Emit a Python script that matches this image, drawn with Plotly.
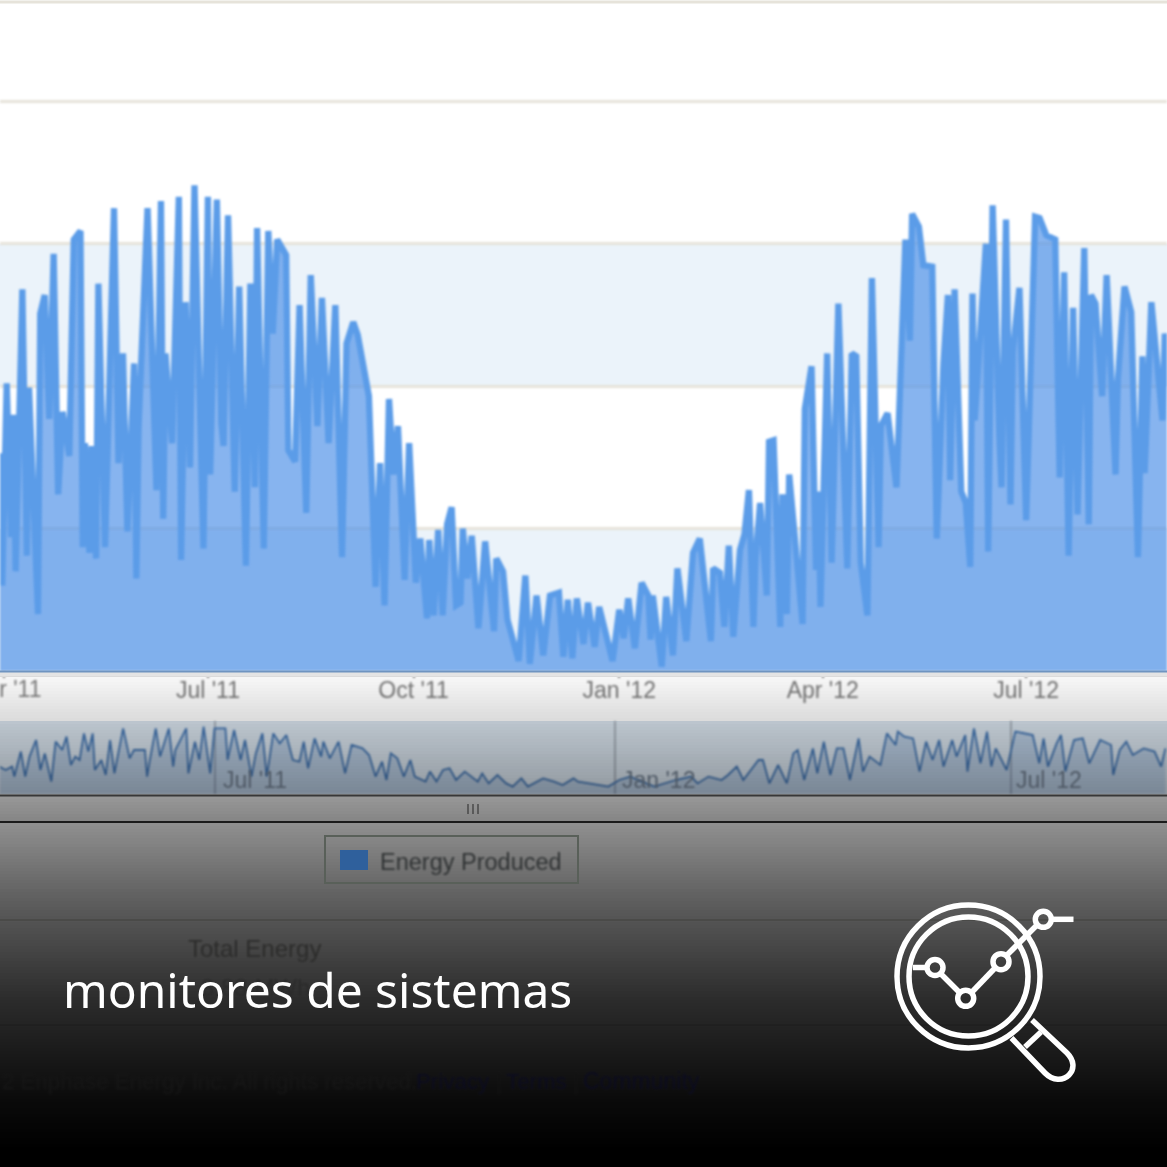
import numpy as np
import pandas as pd
import plotly.graph_objects as go

BASE = pd.Timestamp("2011-03-30")

main_day = [0,1,3,5,6,7,10,12,13,17,18,20,22,24,26,28,31,33,36,37,38,40,41,43,44,47,51,53,55,57,60,61,62,66,70,72,73,74,77,80,81,83,85,87,91,93,94,97,99,100,102,105,107,110,112,114,115,118,120,122,124,128,129,132,134,137,139,142,144,147,150,153,155,158,160,163,165,168,170,172,174,176,178,181,183,186,188,191,192,194,196,198,200,202,204,206,207,209,211,214,217,221,222,225,227,232,235,237,240,243,246,250,252,254,256,258,261,263,266,268,270,274,277,279,281,284,287,290,291,292,296,298,301,303,307,310,313,316,318,319,322,324,326,328,331,333,335,337,338,340,343,344,346,349,350,352,353,359,360,363,365,366,367,370,372,375,379,381,383,385,388,390,393,394,397,401,405,407,408,411,413,417,419,422,424,425,427,430,432,434,435,436,441,442,444,447,448,450,452,453,456,459,463,465,468,472,474,476,478,480,482,485,487,488,490,493,495,499,500,503,506,509,511,512,515,520,521,523]
main_kwh = [15.3,6.0,20.2,9.4,18.0,7.0,26.8,8.1,19.9,4.0,25.1,26.4,17.7,29.3,12.4,18.2,15.1,30.3,30.9,8.7,16.0,8.3,15.8,7.9,27.2,8.7,32.5,14.6,22.3,9.8,21.6,6.5,17.2,32.5,12.7,33.0,10.7,22.3,16.0,33.3,7.8,25.9,14.3,34.1,8.6,33.3,13.8,33.1,17.4,15.8,32.0,12.6,27.0,7.4,27.2,12.9,31.1,8.6,30.9,23.7,30.3,29.2,15.5,14.7,25.7,11.1,27.8,17.2,26.2,16.0,25.7,8.0,23.0,24.5,23.6,20.7,19.3,5.9,14.6,4.6,19.1,13.8,17.2,6.4,16.0,6.2,9.3,3.7,9.2,3.9,9.9,3.9,10.3,11.5,4.6,4.8,10.0,6.5,9.5,3.0,9.1,2.8,7.9,7.0,3.6,0.7,6.7,0.5,5.3,1.1,5.3,5.5,1.0,5.0,0.9,5.1,1.9,4.8,1.7,4.5,3.1,0.7,4.3,2.3,5.1,1.6,6.2,5.3,2.2,5.3,0.3,5.2,1.1,7.2,2.1,8.3,9.3,5.2,2.1,7.2,6.9,3.1,8.8,2.4,8.5,9.6,12.7,3.1,8.0,11.8,5.3,16.1,16.2,3.1,12.4,4.0,13.8,3.3,18.4,21.4,7.1,12.6,4.5,22.3,7.6,25.8,7.2,22.3,22.1,7.6,3.9,27.6,8.7,17.2,18.1,12.9,30.3,23.2,32.1,31.2,28.5,28.4,9.3,21.5,26.4,13.4,26.8,12.6,11.8,7.3,26.5,17.6,30.0,8.4,32.7,16.5,12.9,31.7,11.7,22.4,26.9,10.6,31.9,31.8,30.6,30.3,13.6,28.0,8.1,25.5,11.0,29.7,10.3,26.4,25.8,19.3,27.8,13.8,20.4,27.0,25.2,8.0,22.1,13.9,25.9,17.6,23.7,20.0]

nav_day = [-6,-3,0,1,4,6,8,11,13,15,18,20,23,25,27,29,31,33,35,37,38,41,43,45,47,49,51,54,56,61,62,63,66,68,72,74,75,80,81,84,86,88,91,93,98,99,102,105,107,110,112,115,117,120,123,126,129,132,134,136,139,142,143,146,150,153,156,161,164,167,170,172,174,177,180,183,185,190,192,195,198,201,204,208,214,216,219,223,227,230,234,237,241,244,249,253,258,260,265,274,279,284,295,300,305,312,315,320,326,329,333,336,340,343,345,348,352,356,359,361,364,368,370,373,376,379,382,385,389,391,394,399,402,406,407,410,414,417,420,423,426,428,432,434,438,439,442,445,448,450,452,457,461,465,469,472,474,476,480,482,484,488,492,495,500,505,506,509,512,515,520,525,528,530]
nav_kwh = [13.7,12,13.7,8.7,21.2,8.7,18.7,27,12,20.3,6.2,26.2,22,28.7,14.5,18.7,17,30.3,21.2,30.3,12,17,9.5,27,10.3,22,32.8,17.8,22,22,8.7,15.3,32.8,18.7,32.8,13.7,22,32.8,10.3,26.2,17,33.7,10.3,32.8,32.8,17,32,17,27,8.7,20.3,30.3,8.7,30.3,25.3,29.5,17,16.2,26.2,12.8,27.8,18.7,26.2,17.8,26.2,10.3,24.5,22.8,19.5,8.7,16.2,7,20.3,17.8,8.7,17,8.7,6.2,11.2,6.2,12,12.8,7,11.2,6.2,10.3,5.3,9.5,5.3,3.7,7.8,3.7,6.2,7.8,6.2,4.5,7.8,6.2,5.3,3.7,7,8.7,3.7,5.3,7,8.7,5.3,8.7,7,9.5,13.7,7,12.8,17,17,5.3,14.5,5.3,20.3,22,7,22.8,10.3,26.2,9.5,22.8,22.8,7,27.8,11.2,18.7,14.5,30.3,24.5,31.2,28.7,27.8,11.2,26.2,17,27,13.7,27,18.7,29.5,11.2,32.8,15.3,31.2,13.7,22.8,12,31.2,30.3,29.5,15.3,27.8,13.7,25.3,29.5,11.2,27,27.8,15.3,27,24.5,9.5,22,26.2,19.5,22.8,21.2,13.7,22.8]

month_ticks = ["2011-04-01", "2011-07-01", "2011-10-01", "2012-01-01", "2012-04-01", "2012-07-01"]
month_labels = ["Apr '11", "Jul '11", "Oct '11", "Jan '12", "Apr '12", "Jul '12"]
nav_ticks = ["2011-07-01", "2012-01-01", "2012-07-01"]
nav_labels = ["Jul '11", "Jan '12", "Jul '12"]
y_ticks = [10, 20, 30, 40]
legend_label = "Energy Produced"
headline = "monitores de sistemas"


def dates(days):
    return BASE + pd.to_timedelta(days, unit="D")


def px(x):
    return x / 1167


def py(y):
    return 1 - y / 1167


def rect(x0, y0, x1, y1, fill, line=None, width=0):
    return dict(type="rect", xref="paper", yref="paper", layer="above",
                x0=px(x0), x1=px(x1), y0=py(y0), y1=py(y1),
                fillcolor=fill, line=dict(color=line or "rgba(0,0,0,0)", width=width))


def hline(y, x0=0, x1=1167, color="#333", width=1):
    return dict(type="line", xref="paper", yref="paper", layer="above",
                x0=px(x0), x1=px(x1), y0=py(y), y1=py(y), line=dict(color=color, width=width))


fig = go.Figure()
fig.add_trace(go.Scatter(x=dates(main_day), y=main_kwh, mode="lines", fill="tozeroy",
                         fillcolor="rgba(70,140,230,0.65)",
                         line=dict(color="#5b9ce8", width=6.3, shape="linear"),
                         hoverinfo="skip", showlegend=False, xaxis="x", yaxis="y"))
fig.add_trace(go.Scatter(x=dates(nav_day), y=nav_kwh, mode="lines", fill="tozeroy",
                         fillcolor="rgba(70,120,180,0.22)",
                         line=dict(color="#3f74b4", width=1.8),
                         hoverinfo="skip", showlegend=False, xaxis="x2", yaxis="y2"))

shapes = []
# plot bands
for lo, hi in [(0, 10), (20, 30)]:
    shapes.append(dict(type="rect", xref="paper", yref="y", layer="below", x0=0, x1=1,
                       y0=lo, y1=hi, fillcolor="#ebf3fa", line=dict(width=0)))
shapes.append(dict(type="rect", xref="paper", yref="paper", layer="below", x0=0, x1=1,
                   y0=py(794), y1=py(721), fillcolor="#dce7f1", line=dict(width=0)))
# strips below the plot
shapes.append(rect(0, 672, 1167, 677, "#e4e4e4"))
shapes.append(hline(2, color="#e6e3da", width=3))
shapes.append(hline(671.5, color="#6f94c0", width=2))
# scrollbar
shapes.append(rect(0, 796, 1167, 822, "#e9e9e9"))
shapes.append(hline(795.5, color="#555555", width=2))
shapes.append(hline(822, color="#303030", width=2))
for gx in [468, 473, 478]:
    shapes.append(dict(type="line", xref="paper", yref="paper", layer="above",
                       x0=px(gx), x1=px(gx), y0=py(804), y1=py(814),
                       line=dict(color="#777777", width=1.5)))
shapes.append(hline(920, color="#d8d8d0", width=1.5))
shapes.append(hline(1025, color="#cccccc", width=1))

# darkening veil down the lower part of the image
veil_y = [676, 720, 800, 825, 900, 1000, 1100, 1150, 1168]
veil_a = [0.03, 0.14, 0.36, 0.44, 0.63, 0.83, 0.96, 1.0, 1.0]
for y0 in range(676, 1168, 3):
    a = float(np.interp(y0 + 1.5, veil_y, veil_a))
    shapes.append(rect(0, y0, 1167, y0 + 3, f"rgba(0,0,0,{a:.3f})"))

# legend
shapes.append(dict(type="rect", xref="paper", yref="paper", layer="above",
                   x0=px(325), x1=px(578), y0=py(836), y1=py(883),
                   fillcolor="rgba(0,0,0,0)", line=dict(color="#596059", width=2)))
shapes.append(rect(340, 850, 368, 870, "#2f609c"))

# magnifier icon
WHITE = dict(color="#ffffff", width=5.5)


def circle(cx, cy, r, width=5.5):
    return dict(type="circle", xref="paper", yref="paper", layer="above",
                x0=px(cx - r), x1=px(cx + r), y0=py(cy + r), y1=py(cy - r),
                fillcolor="rgba(0,0,0,0)", line=dict(color="#ffffff", width=width))


def seg(x0, y0, x1, y1):
    return dict(type="line", xref="paper", yref="paper", layer="above",
                x0=px(x0), x1=px(x1), y0=py(y0), y1=py(y1), line=WHITE)


shapes += [circle(968.5, 976.5, 71.5), circle(968.5, 976.5, 59.5)]
shapes += [circle(935, 967.5, 8), circle(965.7, 998.3, 8), circle(1001, 961.7, 8), circle(1043.3, 919.3, 8)]
shapes += [seg(913, 967.5, 926, 967.5), seg(941, 974, 959, 992), seg(972, 992, 995, 968),
           seg(1007, 955, 1036, 926), seg(1052, 919.3, 1073.5, 919.3),
           seg(1025, 1047, 1041, 1032)]


def P(x, y):
    return f"{px(x)} {py(y)}"


handle = (f"M {P(1011.5, 1038)} L {P(1045, 1073)} "
          f"C {P(1053, 1081)} {P(1063, 1081)} {P(1069, 1075)} "
          f"C {P(1075, 1069)} {P(1074, 1060)} {P(1067, 1053)} "
          f"L {P(1032, 1020)}")
shapes.append(dict(type="path", xref="paper", yref="paper", layer="above", path=handle,
                   fillcolor="rgba(0,0,0,0)", line=WHITE))

annotations = []


def note(text, x, y, size, color, anchor="left", family="Liberation Sans"):
    annotations.append(dict(text=text, xref="paper", yref="paper", x=px(x), y=py(y),
                            xanchor=anchor, yanchor="middle", showarrow=False,
                            font=dict(family=family, size=size, color=color)))


note(month_labels[0], 6, 689, 23, "#777777", anchor="center")
for label, tx in zip(nav_labels, [221, 620, 1014]):
    note(label, tx, 780, 23, "#4d5763")
note(legend_label, 378, 862, 23.5, "#2f3233")
note("Total Energy", 254, 948, 24, "#2b2b2a", anchor="center")
note("8.88 MWh", 255, 987, 24, "#2a2a2a", anchor="center")
note("2 Enphase Energy Inc. All rights reserved.", 0, 1081, 22.3, "#161616")
note("Privacy", 414, 1081, 22.3, "#0c0c20")
note("|", 494, 1081, 22.3, "#121212")
note("Terms", 504, 1081, 22.3, "#0c0c20")
note("|", 571, 1081, 22.3, "#121212")
note("Community", 581, 1081, 23, "#0c0c20")
note(headline, 61, 989.5, 47.9, "#ffffff", family="Noto Sans")

fig.update_layout(
    width=1167, height=1167, autosize=False,
    margin=dict(l=0, r=0, t=0, b=0),
    paper_bgcolor="#ffffff", plot_bgcolor="rgba(0,0,0,0)",
    showlegend=False, hovermode=False,
    shapes=shapes, annotations=annotations,
    xaxis=dict(domain=[0, 1], range=["2011-03-30", "2012-09-02"], type="date",
               tickmode="array", tickvals=month_ticks, ticktext=month_labels,
               ticks="outside", ticklen=6, tickcolor="#8a8a8a", tickwidth=2,
               ticklabelstandoff=-8,
               tickfont=dict(family="Liberation Sans", size=23, color="#7a7a7a"),
               showgrid=False, zeroline=False, showline=False, anchor="y"),
    yaxis=dict(domain=[py(671), py(2)], range=[0, 46.98], tickmode="array", tickvals=y_ticks,
               showticklabels=False, ticks="", showgrid=True, gridcolor="#e6e3da", gridwidth=3,
               zeroline=False, showline=False, anchor="x"),
    xaxis2=dict(domain=[0, 1], range=["2011-03-24 10:00", "2012-09-10 17:00"], type="date",
                tickmode="array", tickvals=nav_ticks, showticklabels=False, ticks="",
                showgrid=True, gridcolor="#a9b2bc", gridwidth=1.5, zeroline=False, anchor="y2"),
    yaxis2=dict(domain=[py(794), py(721)], range=[0, 36.5], showticklabels=False, ticks="",
                showgrid=False, zeroline=False, anchor="x2"),
)

# remove the page margin; soften the photographed screenshot look of everything but the headline
soften = """
document.body.style.margin = '0';
document.querySelectorAll('.cartesianlayer').forEach(function (n) { n.style.filter = 'blur(1.1px)'; });
document.querySelectorAll('.annotation').forEach(function (n) {
  if (n.textContent.indexOf('monitores') < 0) { n.style.filter = 'blur(0.9px)'; }
});
"""
fig.write_html("out.html", config=dict(displayModeBar=False), post_script=soften)
